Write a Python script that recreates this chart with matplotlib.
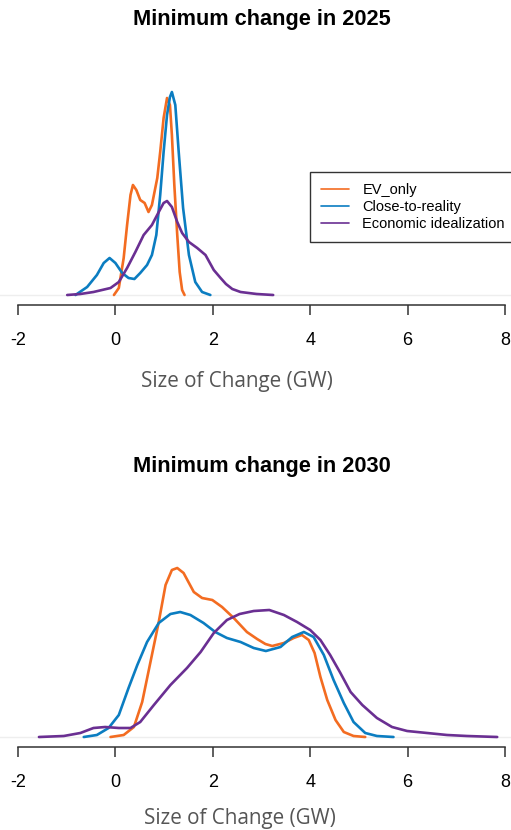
import matplotlib
matplotlib.use("Agg")
import matplotlib.pyplot as plt

# ---- data (density curves) ----
series_names = ["EV_only", "Close-to-reality", "Economic idealization"]
colors = ["#F36C21", "#0B7DC1", "#6A2F92"]

ev25_x = [-0.03, 0.07, 0.17, 0.24, 0.31, 0.36, 0.43, 0.51, 0.60, 0.68, 0.75, 0.86, 0.92, 0.99, 1.06, 1.12, 1.16, 1.21, 1.27, 1.32, 1.37, 1.42]
ev25_y = [0.00, 0.07, 0.37, 0.70, 1.00, 1.10, 1.05, 0.95, 0.92, 0.83, 0.90, 1.17, 1.43, 1.77, 1.97, 1.90, 1.60, 1.10, 0.60, 0.23, 0.05, 0.00]
cr25_x = [-0.82, -0.58, -0.38, -0.24, -0.12, 0.00, 0.14, 0.27, 0.39, 0.51, 0.65, 0.75, 0.84, 0.92, 0.99, 1.06, 1.12, 1.16, 1.23, 1.30, 1.39, 1.51, 1.64, 1.78, 1.95]
cr25_y = [0.00, 0.08, 0.20, 0.32, 0.37, 0.32, 0.22, 0.17, 0.16, 0.22, 0.30, 0.40, 0.60, 1.00, 1.43, 1.80, 1.98, 2.03, 1.90, 1.43, 0.87, 0.40, 0.13, 0.03, 0.00]
ei25_x = [-0.99, -0.72, -0.45, -0.10, 0.07, 0.24, 0.41, 0.58, 0.75, 0.89, 0.99, 1.06, 1.16, 1.27, 1.37, 1.51, 1.68, 1.85, 2.02, 2.16, 2.27, 2.40, 2.57, 2.90, 3.24]
ei25_y = [0.00, 0.01, 0.03, 0.07, 0.13, 0.27, 0.43, 0.60, 0.70, 0.83, 0.92, 0.94, 0.88, 0.73, 0.62, 0.53, 0.47, 0.40, 0.25, 0.17, 0.11, 0.06, 0.03, 0.01, 0.00]

ev30_x = [-0.10, 0.17, 0.38, 0.55, 0.72, 0.89, 1.03, 1.16, 1.27, 1.40, 1.61, 1.78, 1.99, 2.19, 2.43, 2.70, 2.91, 3.08, 3.22, 3.46, 3.66, 3.83, 3.97, 4.09, 4.21, 4.35, 4.52, 4.69, 4.89, 5.13]
ev30_y = [0.00, 0.02, 0.10, 0.35, 0.75, 1.15, 1.52, 1.67, 1.69, 1.64, 1.45, 1.39, 1.37, 1.30, 1.19, 1.05, 0.98, 0.93, 0.91, 0.94, 0.99, 1.02, 0.97, 0.84, 0.60, 0.37, 0.17, 0.05, 0.01, 0.00]
cr30_x = [-0.65, -0.38, -0.14, 0.07, 0.27, 0.45, 0.65, 0.89, 1.13, 1.33, 1.54, 1.81, 2.05, 2.29, 2.57, 2.84, 3.09, 3.39, 3.63, 3.87, 4.07, 4.28, 4.48, 4.69, 4.89, 5.13, 5.37, 5.71]
cr30_y = [0.00, 0.02, 0.09, 0.22, 0.49, 0.72, 0.95, 1.14, 1.23, 1.25, 1.22, 1.14, 1.05, 0.99, 0.95, 0.89, 0.86, 0.90, 1.00, 1.05, 1.00, 0.82, 0.57, 0.34, 0.15, 0.04, 0.01, 0.00]
ei30_x = [-1.57, -1.06, -0.72, -0.45, -0.21, 0.07, 0.31, 0.51, 0.79, 1.13, 1.47, 1.75, 2.02, 2.29, 2.55, 2.84, 3.16, 3.46, 3.73, 4.00, 4.21, 4.41, 4.62, 4.83, 5.07, 5.37, 5.68, 5.99, 6.40, 6.81, 7.22, 7.84]
ei30_y = [0.00, 0.01, 0.04, 0.09, 0.10, 0.09, 0.09, 0.15, 0.32, 0.52, 0.69, 0.85, 1.04, 1.17, 1.23, 1.26, 1.27, 1.22, 1.15, 1.07, 0.97, 0.82, 0.64, 0.45, 0.32, 0.19, 0.10, 0.06, 0.04, 0.02, 0.01, 0.00]

titles = ["Minimum change in 2025", "Minimum change in 2030"]
xticks = [-2, 0, 2, 4, 6, 8]
xlabel = "Size of Change (GW)"

W, H = 511, 830
fig = plt.figure(figsize=(W / 100, H / 100), dpi=100)

px_per_unit = (505 - 18) / 10.0
xlim = (-2 - 18 / px_per_unit, 8 + (W - 505) / px_per_unit)


def make_axes(top_px, base_px, axis_px):
    bottom = 1 - axis_px / H
    height = (axis_px - top_px) / H
    ax = fig.add_axes([0, bottom, 1, height])
    ax.set_xlim(*xlim)
    ylo = -(axis_px - base_px) / 100.0
    yhi = (base_px - top_px) / 100.0
    ax.set_ylim(ylo, yhi)
    for s in ["top", "right", "left"]:
        ax.spines[s].set_visible(False)
    ax.spines["bottom"].set_bounds(-2, 8)
    ax.spines["bottom"].set_color("#333333")
    ax.spines["bottom"].set_linewidth(1.1)
    ax.set_yticks([])
    ax.set_xticks(xticks)
    ax.set_xticklabels([str(t) for t in xticks], family="Liberation Sans", fontsize=13)
    ax.tick_params(axis="x", length=7.5, width=1.1, color="#333333", pad=12)
    ax.axhline(0, color="#eeeeee", lw=1, zorder=0)
    ax.patch.set_alpha(0)
    return ax


ax1 = make_axes(40, 295, 305)
ax2 = make_axes(480, 737, 747)

data25 = [(ev25_x, ev25_y), (cr25_x, cr25_y), (ei25_x, ei25_y)]
data30 = [(ev30_x, ev30_y), (cr30_x, cr30_y), (ei30_x, ei30_y)]

lines = []
for (x, y), c, n in zip(data25, colors, series_names):
    l, = ax1.plot(x, y, color=c, lw=1.9, label=n, solid_capstyle="round", solid_joinstyle="round")
    lines.append(l)
for (x, y), c in zip(data30, colors):
    ax2.plot(x, y, color=c, lw=1.9, solid_capstyle="round", solid_joinstyle="round")

leg = fig.legend(handles=lines, loc="upper left", bbox_to_anchor=(310 / W, 1 - 172 / H),
                 bbox_transform=fig.transFigure, frameon=True, fancybox=False,
                 prop={"family": "Liberation Sans", "size": 10.5}, handlelength=1.9,
                 handletextpad=0.95, labelspacing=0.2, borderpad=0.75, borderaxespad=0)
leg.get_frame().set_edgecolor("black")
leg.get_frame().set_linewidth(1.0)
for lh in leg.get_lines():
    lh.set_linewidth(1.2)

fig.text(262 / W, 1 - 20 / H, titles[0], ha="center", va="center",
         family="Liberation Sans", weight="bold", fontsize=15.7)
fig.text(262 / W, 1 - 466 / H, titles[1], ha="center", va="center",
         family="Liberation Sans", weight="bold", fontsize=15.7)
fig.text(237 / W, 1 - 381 / H, xlabel, ha="center", va="center",
         family="Open Sans", fontsize=14.9, color="#555555")
fig.text(240 / W, 1 - 818 / H, xlabel, ha="center", va="center",
         family="Open Sans", fontsize=14.9, color="#555555")

fig.savefig("out.png", dpi=100)
